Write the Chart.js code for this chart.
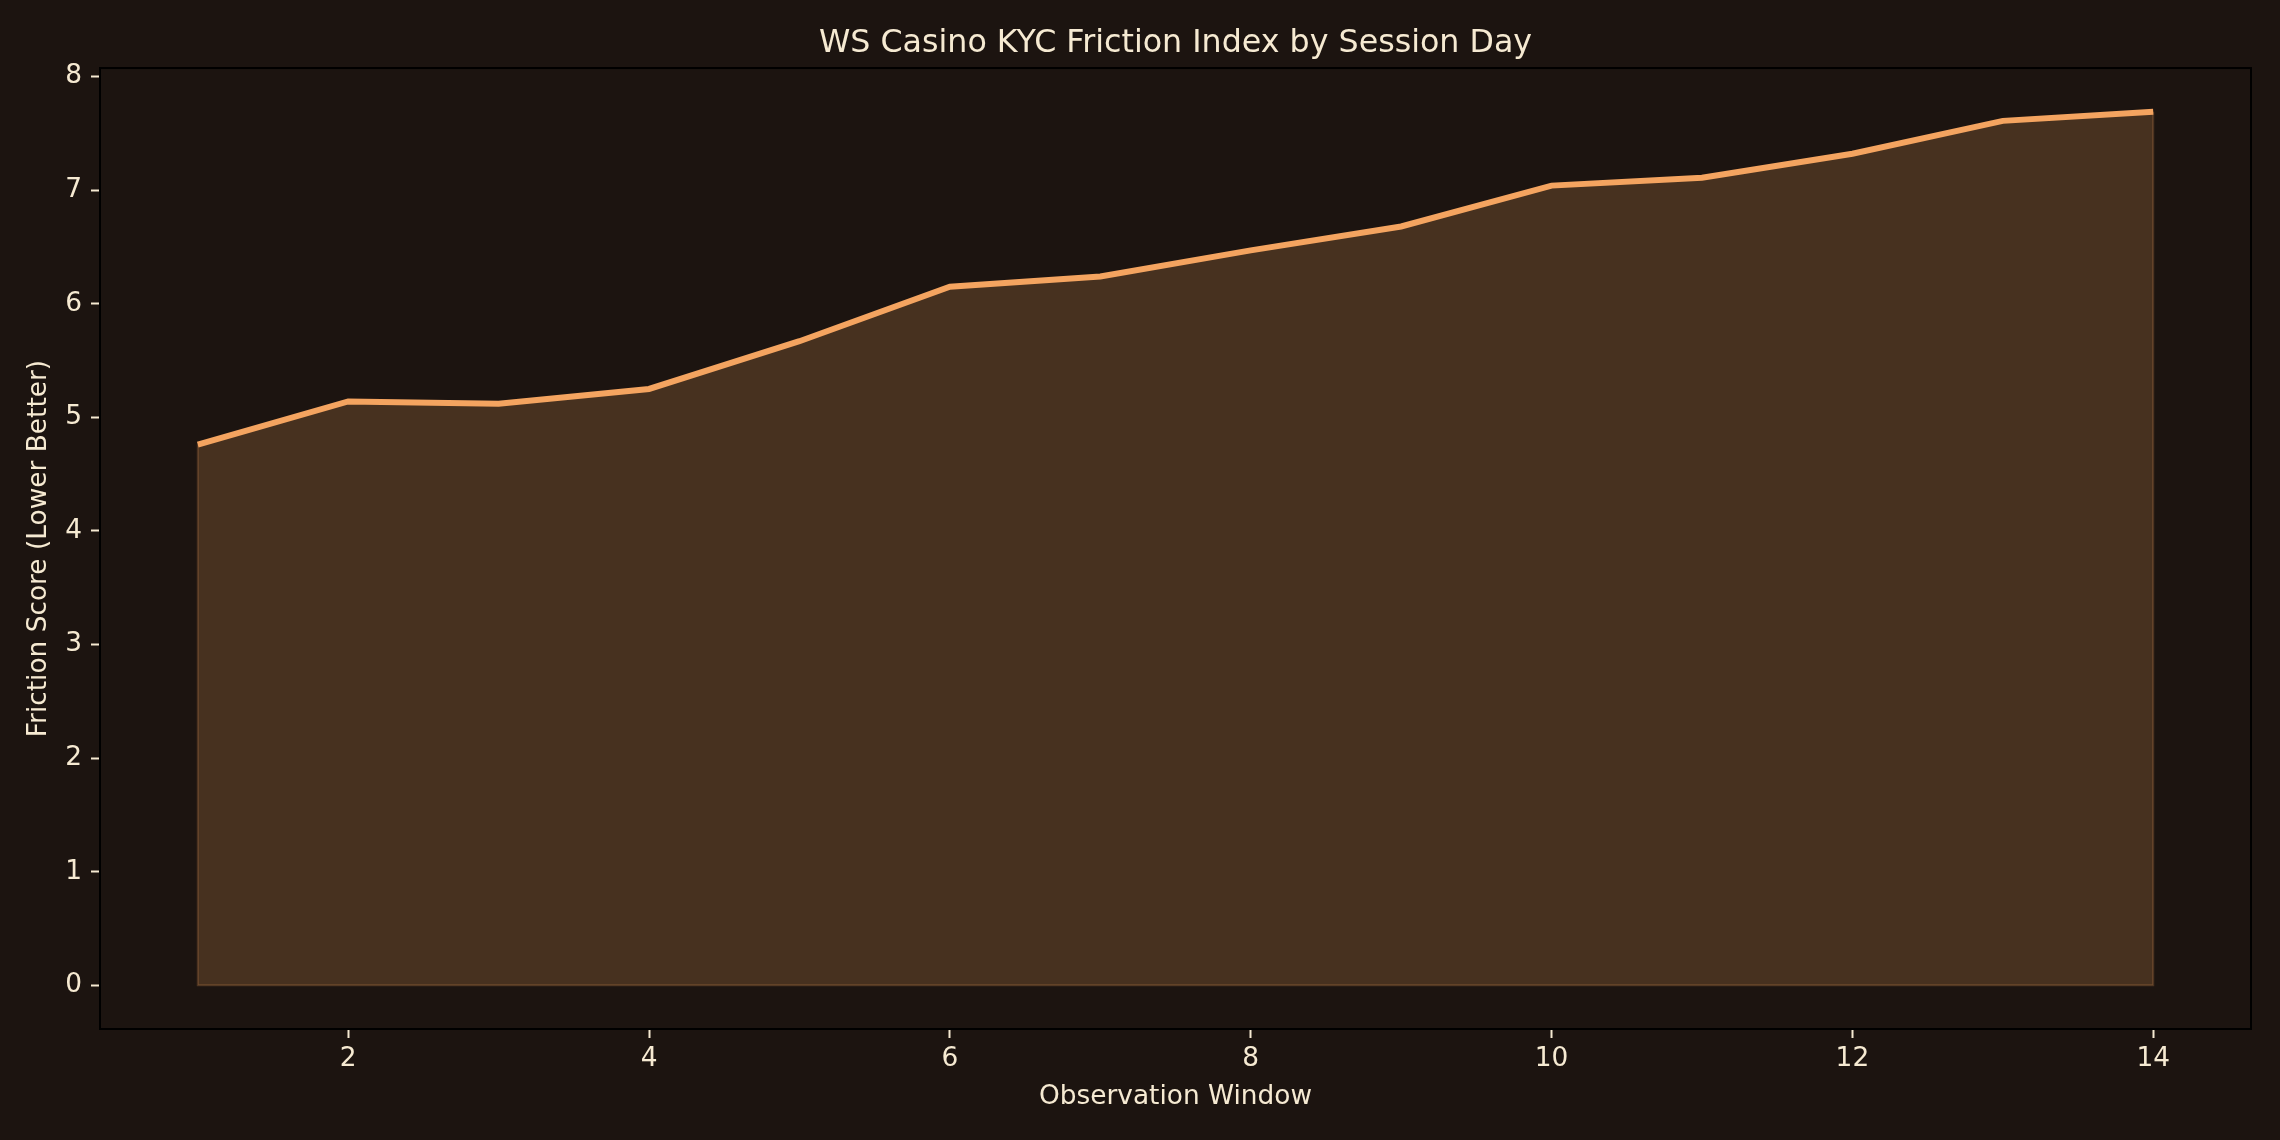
<!DOCTYPE html>
<html>
<head>
<meta charset="utf-8">
<script src="https://cdn.jsdelivr.net/npm/chart.js@4.4.1/dist/chart.umd.min.js"></script>
<style>
  html, body { margin: 0; padding: 0; background: #1c1410; }
  #wrap { width: 2280px; height: 1140px; }
</style>
</head>
<body>
<div id="wrap"><canvas id="kycChart" width="2280" height="1140"></canvas></div>
<script>
// session days and friction scores
const days = [1, 2, 3, 4, 5, 6, 7, 8, 9, 10, 11, 12, 13, 14];
const friction = [4.76, 5.14, 5.12, 5.25, 5.67, 6.15, 6.24, 6.47, 6.68, 7.04, 7.11, 7.32, 7.61, 7.69];
const xTicks = [2, 4, 6, 8, 10, 12, 14];
const yTicks = [0, 1, 2, 3, 4, 5, 6, 7, 8];

const bg = '#1c1410';
const cream = '#f6ead2';
const sandy = '#f4a460';

// figure background, title centred over the plot, black frame, faint edge of the filled area
const framePlugin = {
    id: 'frame',
    afterLayout(chart) {
        const t = chart.titleBlock;
        if (t) {
            t.left = chart.chartArea.left;
            t.right = chart.chartArea.right;
            t.width = t.right - t.left;
        }
    },
    beforeDraw(chart) {
        const c = chart.ctx;
        c.save();
        c.fillStyle = bg;
        c.fillRect(0, 0, chart.width, chart.height);
        c.restore();
    },
    afterDatasetsDraw(chart) {
        const c = chart.ctx;
        const xs = chart.scales.x, ys = chart.scales.y;
        const x0 = xs.getPixelForValue(days[0]);
        const x1 = xs.getPixelForValue(days[days.length - 1]);
        const yb = ys.getPixelForValue(0);
        c.save();
        c.strokeStyle = 'rgba(244,164,96,0.22)';
        c.lineWidth = 2;
        c.beginPath();
        c.moveTo(x0, ys.getPixelForValue(friction[0]));
        c.lineTo(x0, yb);
        c.lineTo(x1, yb);
        c.lineTo(x1, ys.getPixelForValue(friction[friction.length - 1]));
        c.stroke();
        const a = chart.chartArea;
        c.strokeStyle = '#000000';
        c.lineWidth = 2;
        c.strokeRect(a.left, a.top, a.right - a.left, a.bottom - a.top);
        c.restore();
    }
};

const ctx = document.getElementById('kycChart').getContext('2d');
new Chart(ctx, {
    type: 'line',
    data: {
        datasets: [{
            label: 'Friction Score',
            data: days.map((d, i) => ({ x: d, y: friction[i] })),
            borderColor: sandy,
            borderWidth: 6,
            backgroundColor: 'rgba(244,164,96,0.2)',
            fill: 'origin',
            pointRadius: 0,
            tension: 0
        }]
    },
    options: {
        responsive: false,
        animation: false,
        devicePixelRatio: 1,
        layout: { padding: { left: 0, right: 29, top: 0, bottom: 0 } },
        plugins: {
            legend: { display: false },
            tooltip: { enabled: false },
            title: {
                display: true,
                text: 'WS Casino KYC Friction Index by Session Day',
                color: cream,
                font: { family: 'DejaVu Sans', size: 31.7, weight: 'normal' },
                padding: { top: 25, bottom: 5 }
            }
        },
        scales: {
            x: {
                type: 'linear',
                min: 0.35,
                max: 14.65,
                afterBuildTicks: s => { s.ticks = xTicks.map(v => ({ value: v })); },
                afterFit: s => { s.height = 111; },
                grid: { display: true, drawOnChartArea: false, tickLength: 9, tickWidth: 2, tickColor: cream },
                border: { display: true, color: '#000000', width: 2 },
                ticks: {
                    color: cream,
                    padding: 5,
                    maxRotation: 0,
                    font: { family: 'DejaVu Sans', size: 26.4 }
                },
                title: {
                    display: true,
                    text: 'Observation Window',
                    color: cream,
                    font: { family: 'DejaVu Sans', size: 26.4 },
                    padding: { top: 0, bottom: 27 }
                }
            },
            y: {
                min: -0.385,
                max: 8.075,
                afterBuildTicks: s => { s.ticks = yTicks.map(v => ({ value: v })); },
                afterFit: s => { s.width = 100; },
                grid: { display: true, drawOnChartArea: false, tickLength: 9, tickWidth: 2, tickColor: cream },
                border: { display: true, color: '#000000', width: 2 },
                ticks: {
                    color: cream,
                    padding: 9,
                    font: { family: 'DejaVu Sans', size: 26.4 }
                },
                title: {
                    display: true,
                    text: 'Friction Score (Lower Better)',
                    color: cream,
                    font: { family: 'DejaVu Sans', size: 26.4 },
                    padding: { top: 23, bottom: 0 }
                }
            }
        }
    },
    plugins: [framePlugin]
});
</script>
</body>
</html>
